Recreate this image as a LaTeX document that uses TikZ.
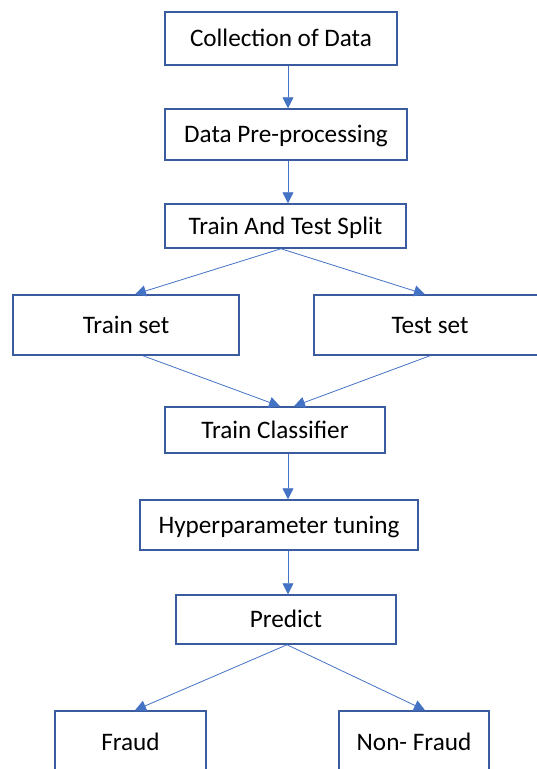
\documentclass[tikz,border=0pt]{standalone}
\usepackage{fontspec}
\setmainfont{Carlito}
\usepackage{tikz}
\usetikzlibrary{arrows.meta}
\definecolor{boxblue}{HTML}{3A5C9E}
\definecolor{linkblue}{HTML}{4472C4}
\tikzset{
    stage/.style={shape=rectangle, draw=boxblue, line width=1.5pt, inner sep=0pt,
        text height=16.2pt, text depth=0pt, font=\fontsize{25.2}{30}\selectfont},
    flow/.style={draw=linkblue, line width=0.8pt, -{Triangle[length=11pt,width=11pt]}}}

\begin{document}
\begin{tikzpicture}[x=1pt, y=-1pt]

            \clip (0,0) rectangle (537,769);

            \node[stage, minimum width=232pt, minimum height=53pt] (collect) at (281,38.5) {Collection of Data};
            \node[stage, minimum width=242pt, minimum height=51pt] (preproc) at (286,134.5) {Data Pre-processing};
            \node[stage, minimum width=241pt, minimum height=44pt] (split) at (285.5,226) {Train And Test Split};
            \node[stage, minimum width=226pt, minimum height=60pt] (trainset) at (126,325) {Train set};
            \node[stage, minimum width=232pt, minimum height=60pt] (testset) at (430,325) {Test set};
            \node[stage, minimum width=220pt, minimum height=46pt] (classifier) at (275,430) {Train Classifier};
            \node[stage, minimum width=278pt, minimum height=50pt] (tuning) at (279,525) {Hyperparameter tuning};
            \node[stage, minimum width=220pt, minimum height=49pt] (predict) at (286,619.5) {Predict};
            \node[stage, minimum width=151pt, minimum height=62pt] (fraud) at (130.5,742) {Fraud};
            \node[stage, minimum width=150pt, minimum height=62pt] (nonfraud) at (414,742) {Non- Fraud};

            \coordinate (spine) at (288,0);

            \draw[flow] (collect.south -| spine) -- (preproc.north -| spine);
            \draw[flow] (preproc.south -| spine) -- (split.north -| spine);
            \draw[flow] ([xshift=-4.5pt]split.south) -- ([xshift=9pt]trainset.north);
            \draw[flow] ([xshift=-4.5pt]split.south) -- ([xshift=-5pt]testset.north);
            \draw[flow] ([xshift=17pt]trainset.south) -- ([xshift=5pt]classifier.north);
            \draw[flow] (testset.south) -- ([xshift=19pt]classifier.north);
            \draw[flow] (classifier.south -| spine) -- (tuning.north -| spine);
            \draw[flow] (tuning.south -| spine) -- (predict.north -| spine);
            \draw[flow] ([xshift=1pt]predict.south) -- ([xshift=4.5pt]fraud.north);
            \draw[flow] ([xshift=1pt]predict.south) -- ([xshift=11pt]nonfraud.north);

        \end{tikzpicture}
\end{document}
